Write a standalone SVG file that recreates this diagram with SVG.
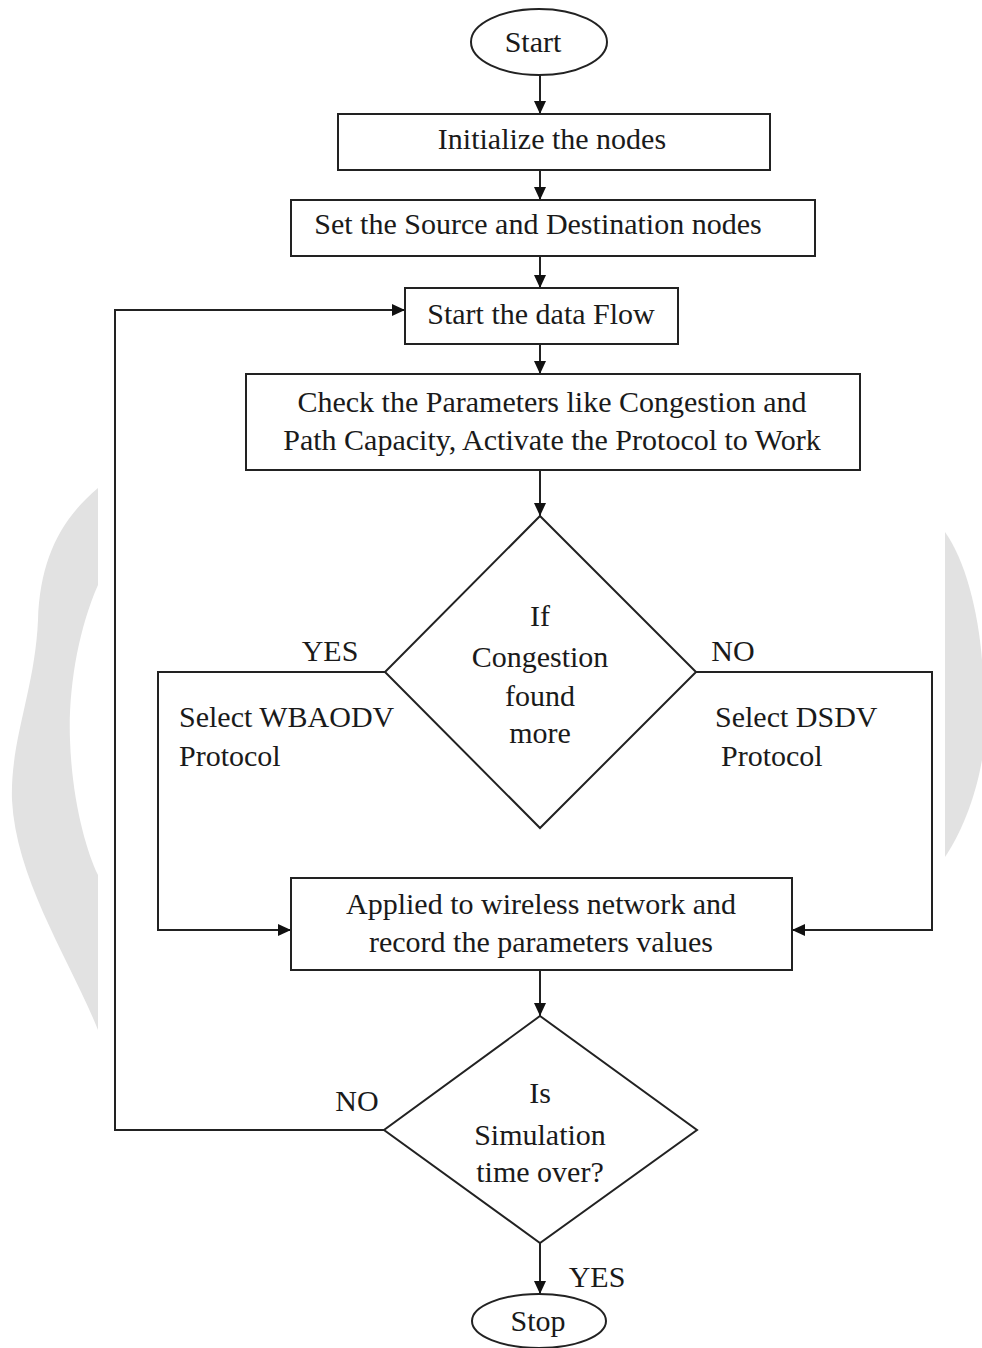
<svg xmlns="http://www.w3.org/2000/svg" width="982" height="1348" viewBox="0 0 982 1348">
<style>
.shape{fill:#fff;stroke:#222;stroke-width:2}
.conn{fill:none;stroke:#222;stroke-width:2}
text{font-family:"Liberation Serif","Times New Roman",serif;font-size:30px;fill:#1a1a1a}
.c{text-anchor:middle}
.wm{fill:#e2e2e2;stroke:none}
</style>
<defs>
<marker id="arr" markerUnits="userSpaceOnUse" markerWidth="14" markerHeight="12" refX="13" refY="6" orient="auto">
<path d="M0,0 L13,6 L0,12 z" fill="#111"/>
</marker>
</defs>
<rect width="982" height="1348" fill="#fff"/>
<g id="watermark">
<path class="wm" d="M98,488 C60,520 40,560 38,620 C35,690 10,740 12,800 C16,880 70,960 98,1030 Z"/>
<path fill="#fff" d="M98,585 C78,630 68,690 70,740 C72,800 86,850 98,875 Z"/>
<path class="wm" d="M945,532 C965,560 978,610 982,660 L982,760 C975,800 960,835 945,857 Z"/>
</g>
<g id="connectors">
<line class="conn" x1="540" y1="75" x2="540" y2="114" marker-end="url(#arr)"/>
<line class="conn" x1="540" y1="170" x2="540" y2="200" marker-end="url(#arr)"/>
<line class="conn" x1="540" y1="256" x2="540" y2="288" marker-end="url(#arr)"/>
<line class="conn" x1="540" y1="344" x2="540" y2="374" marker-end="url(#arr)"/>
<line class="conn" x1="540" y1="470" x2="540" y2="516" marker-end="url(#arr)"/>
<path class="conn" d="M385,672 H158 V930 H291" marker-end="url(#arr)"/>
<path class="conn" d="M696,672 H932 V930 H792" marker-end="url(#arr)"/>
<line class="conn" x1="540" y1="970" x2="540" y2="1016" marker-end="url(#arr)"/>
<path class="conn" d="M384,1130 H115 V310 H405" marker-end="url(#arr)"/>
<line class="conn" x1="540" y1="1243" x2="540" y2="1294" marker-end="url(#arr)"/>
</g>
<g id="start">
<ellipse class="shape" cx="539" cy="42" rx="68" ry="33"/>
<text class="c" x="533" y="52">Start</text>
</g>
<g id="init">
<rect class="shape" x="338" y="114" width="432" height="56"/>
<text class="c" x="552" y="149">Initialize the nodes</text>
</g>
<g id="setnodes">
<rect class="shape" x="291" y="200" width="524" height="56"/>
<text class="c" x="538" y="234">Set the Source and Destination nodes</text>
</g>
<g id="dataflow">
<rect class="shape" x="405" y="288" width="273" height="56"/>
<text class="c" x="541" y="324">Start the data Flow</text>
</g>
<g id="check">
<rect class="shape" x="246" y="374" width="614" height="96"/>
<text class="c" x="552" y="412">Check the Parameters like Congestion and</text>
<text class="c" x="552" y="450">Path Capacity, Activate the Protocol to Work</text>
</g>
<g id="decision1">
<polygon class="shape" points="540,516 696,672 540,828 385,672"/>
<text class="c" x="540" y="626">If</text>
<text class="c" x="540" y="667">Congestion</text>
<text class="c" x="540" y="706">found</text>
<text class="c" x="540" y="743">more</text>
</g>
<g id="labels1">
<text class="c" x="330" y="661">YES</text>
<text class="c" x="733" y="661">NO</text>
<text x="179" y="727">Select WBAODV</text>
<text x="179" y="766">Protocol</text>
<text x="715" y="727">Select DSDV</text>
<text x="721" y="766">Protocol</text>
</g>
<g id="apply">
<rect class="shape" x="291" y="878" width="501" height="92"/>
<text class="c" x="541" y="914">Applied to wireless network and</text>
<text class="c" x="541" y="952">record the parameters values</text>
</g>
<g id="decision2">
<polygon class="shape" points="540,1016 697,1130 540,1243 384,1130"/>
<text class="c" x="540" y="1103">Is</text>
<text class="c" x="540" y="1145">Simulation</text>
<text class="c" x="540" y="1182">time over?</text>
</g>
<g id="labels2">
<text class="c" x="357" y="1111">NO</text>
<text class="c" x="597" y="1287">YES</text>
</g>
<g id="stop">
<ellipse class="shape" cx="539" cy="1321" rx="67" ry="27"/>
<text class="c" x="538" y="1331">Stop</text>
</g>
</svg>
